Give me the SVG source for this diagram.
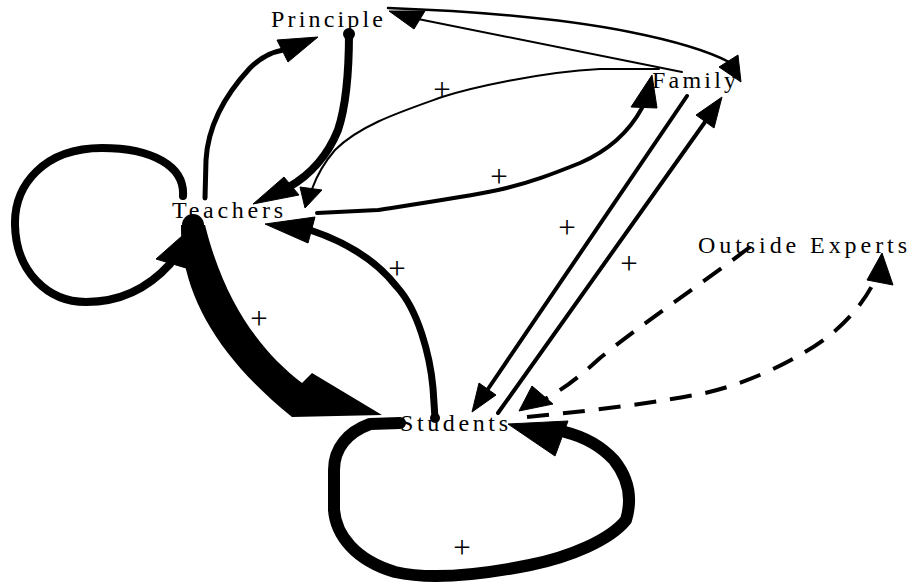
<svg xmlns="http://www.w3.org/2000/svg" width="912" height="586" viewBox="0 0 912 586">
<style>
.lbl{font-family:"Liberation Serif","Times New Roman",serif;font-size:24px;fill:#000}
.pl{font-family:"Liberation Serif","Times New Roman",serif;font-size:31px;fill:#000;text-anchor:middle}
.ln{fill:none;stroke:#000;stroke-linecap:round;stroke-linejoin:round}
.dash{stroke-dasharray:22 14;stroke-linecap:butt}
.ah{fill:#000;stroke:#000;stroke-width:1;stroke-linejoin:round}
</style>
<rect width="912" height="586" fill="#fff"/>
<g id="connectors">
  <g id="teachers-loop">
    <path class="ln" stroke-width="8" d="M183,196 C185,166 152,148 102,148 C44,148 14,185 15,225 C16,272 48,302 86,302 C122,302 150,286 170,264"/>
    <polygon class="ah" points="156,259 191,228 186,268"/>
  </g>
  <g id="teachers-students">
    <path fill="#000" d="M181,225 C180,290 215,355 292,417 L382,415 L312,373 L302,383 C262,352 225,305 205,225 Z"/>
    <circle cx="193" cy="225" r="11" fill="#000"/>
  </g>
  <g id="students-teachers">
    <path class="ln" stroke-width="7" d="M435,418 L433,388 C430,355 418,310 397,287 C380,265 355,245 310,230"/>
    <circle cx="435" cy="418" r="5" fill="#000"/>
    <polygon class="ah" points="265,224 315,217 308,243"/>
  </g>
  <g id="principle-teachers">
    <path class="ln" stroke-width="8" d="M349,33 C349,60 348,100 338,130 C328,155 310,175 289,187"/>
    <circle cx="349" cy="34" r="6" fill="#000"/>
    <polygon class="ah" points="253,204 284,177 299,195"/>
  </g>
  <g id="teachers-principle">
    <path class="ln" stroke-width="5" d="M205,198 L206,160 C208,125 225,95 250,68 C262,56 272,52 283,50"/>
    <polygon class="ah" points="277,40 318,37 288,62"/>
  </g>
  <g id="teachers-family">
    <path class="ln" stroke-width="4" d="M317,213 L378,210 C430,202 470,196 498,190 C530,183 555,173 580,163 C610,150 630,130 642,108"/>
    <polygon class="ah" points="652,75 631,107 657,108"/>
  </g>
  <g id="family-teachers">
    <path class="ln" stroke-width="2" d="M659,69 L600,69 C540,72 470,88 442,97 C400,112 360,125 335,150 C322,165 316,178 312,189"/>
    <polygon class="ah" points="305,208 300,187 322,190"/>
  </g>
  <g id="principle-family">
    <path class="ln" stroke-width="2.5" d="M388,8 C470,11 560,18 630,32 C680,42 710,52 729,62"/>
    <polygon class="ah" points="741,82 719,67 738,55"/>
  </g>
  <g id="family-principle">
    <path class="ln" stroke-width="2" d="M682,72 L418,19"/>
    <polygon class="ah" points="389,11 425,11 414,29"/>
  </g>
  <g id="family-students">
    <path class="ln" stroke-width="4" d="M687,96 L488,389"/>
    <polygon class="ah" points="472,412 479,383 496,395"/>
  </g>
  <g id="students-family">
    <path class="ln" stroke-width="4" d="M498,413 L705,122"/>
    <polygon class="ah" points="722,97 714,128 696,115"/>
  </g>
  <g id="experts-students">
    <path class="ln dash" stroke-width="4" d="M750,247 C700,285 640,325 600,358 C578,378 562,390 545,399"/>
    <polygon class="ah" points="519,411 532,386 553,404"/>
  </g>
  <g id="students-experts">
    <path class="ln dash" stroke-width="4" d="M527,417 C600,410 660,402 705,393 C740,385 775,370 805,352 C835,335 860,310 874,282"/>
    <polygon class="ah" points="882,253 867,280 893,285"/>
  </g>
  <g id="students-loop">
    <path class="ln" stroke-width="12" d="M400,423 L370,424 C348,432 334,448 334,470 L334,510 C336,535 355,560 395,572 C430,580 480,575 530,565 C570,557 610,540 626,520 C632,500 630,480 614,460 C600,445 585,437 565,432"/>
    <polygon class="ah" points="508,424 568,421 555,456"/>
  </g>
</g>
<g id="plus-signs">
  <text class="pl" x="442" y="100">+</text>
  <text class="pl" x="499" y="187">+</text>
  <text class="pl" x="567" y="238">+</text>
  <text class="pl" x="629" y="274">+</text>
  <text class="pl" x="397" y="279">+</text>
  <text class="pl" x="259" y="329">+</text>
  <text class="pl" x="462" y="558">+</text>
</g>
<g id="principle"><text class="lbl" x="271" y="27" textLength="112" lengthAdjust="spacing">Principle</text></g>
<g id="family"><text class="lbl" x="652" y="88" textLength="84" lengthAdjust="spacing">Family</text></g>
<g id="teachers"><text class="lbl" x="172" y="218" textLength="111" lengthAdjust="spacing">Teachers</text></g>
<g id="outside-experts"><text class="lbl" x="698" y="253" textLength="209" lengthAdjust="spacing">Outside Experts</text></g>
<g id="students"><text class="lbl" x="400" y="431" textLength="108" lengthAdjust="spacing">Students</text></g>
</svg>
